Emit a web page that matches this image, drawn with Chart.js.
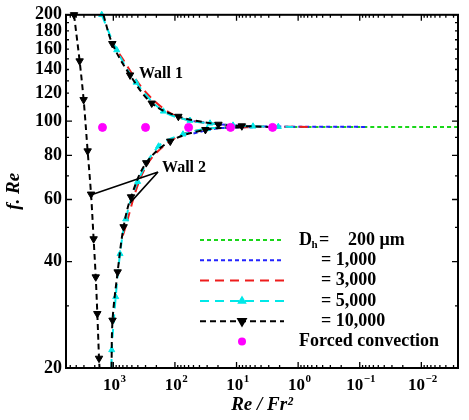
<!DOCTYPE html>
<html>
<head>
<meta charset="utf-8">
<script src="https://cdn.jsdelivr.net/npm/chart.js@4.4.1/dist/chart.umd.min.js"></script>
<style>
  html, body { margin: 0; padding: 0; background: #fff; }
  #c { display: block; }
</style>
</head>
<body>
<canvas id="c" width="469" height="420" style="width:469px;height:420px"></canvas>
<script>
// ---- data ----
const forcedX = [1500, 300, 60, 12.5, 2.6];
const forcedY = [96, 96, 96, 96, 96];

// Dh = 10,000
const blackWall1X = [1450, 1038, 535, 238, 88, 19.7, 8.2, 3];
const blackWall1Y = [200, 165.7, 135, 112.4, 103.1, 97.9, 96.9, 96.3];
const blackWall2aX = [4345, 3525, 3035, 2612, 2300, 2089, 1930, 1819, 1707, 1675];
const blackWall2aY = [200, 148, 115, 82.3, 62.1, 46.4, 36.2, 28.5, 21.3, 20];
const blackWall2bX = [1070, 1030, 851, 681, 516, 292, 119, 32, 8];
const blackWall2bY = [20, 27.3, 37.4, 50.2, 61, 76.2, 87.7, 94.6, 96.1];

// Dh = 5,000
const cyanWall1X = [1542, 881, 428, 154, 57, 26.9, 11.4, 5.4, 2.1, 1.2];
const cyanWall1Y = [200, 159, 128.7, 106.6, 100.4, 98.6, 97.3, 96.7, 96.4, 96.3];
const cyanWall2X = [1070, 1062, 914, 778, 629, 403, 184, 74, 30, 10];
const cyanWall2Y = [20, 22.5, 31.8, 42.1, 52.8, 67.4, 84.9, 91.8, 95.1, 96.1];

// Dh = 3,000
const redWall1X = [800, 300, 100, 30, 5, 0.7];
const redWall1Y = [155, 121, 103.7, 98.8, 96.7, 96.3];
const redWall2X = [700, 300, 100, 30, 5];
const redWall2Y = [47.5, 74, 89.5, 95.0, 96.2];

// Dh = 1,000
const blueWall1X = [50, 20, 5, 0.076];
const blueWall1Y = [100, 98.0, 96.7, 96.3];
const blueWall2X = [50, 20, 5];
const blueWall2Y = [92.3, 95.4, 96.2];

// Dh = 200 um
const greenX = [1.2, 0.0025];
const greenY = [96.3, 96.3];

const xTickVals = [1000, 100, 10, 1, 0.1, 0.01];
const xTickExps = ['3', '2', '1', '0', '-1', '-2'];
const yTickVals = [20, 30, 40, 50, 60, 70, 80, 90, 100, 110, 120, 130, 140, 150, 160, 170, 180, 190, 200];
const yTickLabels = ['20', '', '40', '', '60', '', '80', '', '100', '', '120', '', '140', '', '160', '', '180', '', '200'];
const yLongTicks = [20, 40, 60, 80, 100, 200];

const legendLabels = ['= 1,000', '= 3,000', '= 5,000', '= 10,000'];

const X_MIN = 0.00254, X_MAX = 5865;
const serif = "'Liberation Serif', 'Times New Roman', serif";

// ---- helpers ----
function pts(xs, ys) { return xs.map((x, i) => ({ x: x, y: ys[i] })); }
function radii(n, r, hideFirst, hideLast) {
    return Array.from({ length: n }, (_, i) =>
        (hideFirst && i === 0) || (hideLast && i === n - 1) ? 0 : r);
}

const BLACK = { color: '#000000', dash: [6, 4], style: 'triangle', rot: 180, r: 4.3 };
const CYAN  = { color: '#00e8e8', dash: [9, 6], style: 'triangle', rot: 0, r: 3.5 };
const RED   = { color: '#ee1c1c', dash: [9, 6] };
const BLUE  = { color: '#2323ff', dash: [4, 3] };
const GREEN = { color: '#1ad61a', dash: [4, 3] };

function lineSet(s, xs, ys, hideFirst, hideLast) {
    return {
        data: pts(xs, ys),
        borderColor: s.color,
        backgroundColor: s.color,
        borderWidth: 2,
        borderDash: s.dash,
        tension: 0.35,
        pointStyle: s.style || 'circle',
        rotation: s.rot || 0,
        pointRadius: s.r ? radii(xs.length, s.r, hideFirst, hideLast) : 0,
        pointBorderWidth: 1,
        clip: 8
    };
}

// first dataset ends up on top
const datasets = [
    {
        data: pts(forcedX, forcedY),
        showLine: false,
        pointStyle: 'circle',
        pointRadius: 4,
        backgroundColor: '#ff00ff',
        borderColor: '#ff00ff',
        clip: 8
    },
    lineSet(BLACK, blackWall1X, blackWall1Y, true, true),
    lineSet(BLACK, blackWall2aX, blackWall2aY, false, true),
    lineSet(BLACK, blackWall2bX, blackWall2bY, true, true),
    lineSet(CYAN, cyanWall1X, cyanWall1Y, false, true),
    lineSet(CYAN, cyanWall2X, cyanWall2Y, true, true),
    lineSet(RED, redWall1X, redWall1Y),
    lineSet(RED, redWall2X, redWall2Y),
    lineSet(BLUE, blueWall1X, blueWall1Y),
    lineSet(BLUE, blueWall2X, blueWall2Y),
    lineSet(GREEN, greenX, greenY)
];

// frame + inward ticks on all four sides, and 10^n labels with real superscripts
const frameTicks = {
    id: 'frameTicks',
    afterDatasetsDraw(chart) {
        const c = chart.ctx, a = chart.chartArea;
        const x = chart.scales.x, y = chart.scales.y;
        c.save();
        c.strokeStyle = '#000';
        c.lineWidth = 1.3;
        c.beginPath();
        for (let e = -3; e <= 3; e++) {
            for (let m = 1; m <= 9; m++) {
                const v = m * Math.pow(10, e);
                if (v < X_MIN || v > X_MAX) continue;
                const px = x.getPixelForValue(v);
                const len = m === 1 ? 6 : 3;
                c.moveTo(px, a.bottom); c.lineTo(px, a.bottom - len);
                c.moveTo(px, a.top); c.lineTo(px, a.top + len);
            }
        }
        yTickVals.forEach(v => {
            const py = y.getPixelForValue(v);
            const len = yLongTicks.includes(v) ? 6 : 3;
            c.moveTo(a.left, py); c.lineTo(a.left + len, py);
            c.moveTo(a.right, py); c.lineTo(a.right - len, py);
        });
        c.stroke();
        c.lineWidth = 2;
        c.strokeRect(a.left, a.top, a.right - a.left, a.bottom - a.top);

        c.fillStyle = '#000';
        c.textBaseline = 'alphabetic';
        xTickVals.forEach((v, i) => {
            const px = x.getPixelForValue(v);
            const exp = xTickExps[i].replace('-', '\u2212');
            c.font = 'bold 17px ' + serif;
            const wb = c.measureText('10').width;
            c.font = 'bold 11px ' + serif;
            const we = c.measureText(exp).width;
            const left = px - (wb + we) / 2 + 1;
            c.font = 'bold 17px ' + serif;
            c.fillText('10', left, a.bottom + 22);
            c.font = 'bold 11px ' + serif;
            c.fillText(exp, left + wb + 0.5, a.bottom + 14);
        });
        c.restore();
    }
};

// "Wall" notes and arrows, placed in data coordinates
const wallNotes = {
    id: 'wallNotes',
    afterDatasetsDraw(chart) {
        const c = chart.ctx;
        const X = v => chart.scales.x.getPixelForValue(v);
        const Y = v => chart.scales.y.getPixelForValue(v);
        c.save();
        c.fillStyle = '#000';
        c.font = 'bold 16px ' + serif;
        c.textBaseline = 'middle';
        c.fillText('Wall 1', X(383), Y(136.4));
        c.fillText('Wall 2', X(162), Y(73.6));
        c.strokeStyle = '#000';
        c.lineWidth = 1.6;
        c.beginPath();
        c.moveTo(X(188), Y(71.8)); c.lineTo(X(2328), Y(61.8));
        c.moveTo(X(188), Y(71.8)); c.lineTo(X(535), Y(58.7));
        c.stroke();
        c.restore();
    }
};

// legend in the lower right corner
const dhLegend = {
    id: 'dhLegend',
    afterDraw(chart) {
        const c = chart.ctx;
        const rows = [GREEN, BLUE, RED, CYAN, BLACK];
        const x0 = 200, x1 = 284, mx = 242, tx = 299;
        c.save();
        c.textBaseline = 'middle';
        c.fillStyle = '#000';
        rows.forEach((s, i) => {
            const y = 240 + i * 20.3;
            c.strokeStyle = s.color;
            c.lineWidth = 2;
            c.setLineDash(s.dash);
            c.beginPath(); c.moveTo(x0, y); c.lineTo(x1, y); c.stroke();
            c.setLineDash([]);
            if (s.r) {
                c.fillStyle = s.color; c.strokeStyle = s.color;
                Chart.helpers.drawPoint(c, { pointStyle: 'triangle', radius: s.r, rotation: s.rot, borderWidth: 1 }, mx, y);
            }
            c.fillStyle = '#000';
            c.font = 'bold 18px ' + serif;
            if (i === 0) {
                c.fillText('D', tx, y);
                c.font = 'bold 11px ' + serif;
                c.fillText('h', tx + 12.5, y + 5);
                c.font = 'bold 18px ' + serif;
                c.fillText('=', tx + 20, y);
                c.fillText('200 μm', tx + 49, y);
            } else {
                c.fillText(legendLabels[i - 1], tx + 22, y);
            }
        });
        const y = 240 + 5 * 20.3;
        c.fillStyle = '#ff00ff';
        c.beginPath(); c.arc(mx, y, 4, 0, Math.PI * 2); c.fill();
        c.fillStyle = '#000';
        c.font = 'bold 18px ' + serif;
        c.fillText('Forced convection', tx, y);
        c.restore();
    }
};

new Chart(document.getElementById('c'), {
    type: 'line',
    data: { datasets: datasets },
    plugins: [frameTicks, wallNotes, dhLegend],
    options: {
        responsive: false,
        animation: false,
        devicePixelRatio: 1,
        layout: { padding: { left: 0, right: 11, top: 13, bottom: 0 } },
        plugins: { legend: { display: false }, tooltip: { enabled: false } },
        scales: {
            x: {
                type: 'logarithmic',
                reverse: true,
                min: X_MIN,
                max: X_MAX,
                afterBuildTicks: s => { s.ticks = xTickVals.map(v => ({ value: v })); },
                afterFit: s => { s.height = 52; },
                grid: { display: false, drawTicks: false },
                border: { display: false },
                ticks: { display: false },
                title: {
                    display: true,
                    text: 'Re / Fr²',
                    color: '#000',
                    font: { family: serif, size: 19, weight: 'bold', style: 'italic' },
                    padding: { top: 0, bottom: 4 }
                }
            },
            y: {
                type: 'logarithmic',
                min: 20,
                max: 200,
                afterBuildTicks: s => { s.ticks = yTickVals.map(v => ({ value: v })); },
                afterFit: s => { s.width = 66; },
                grid: { display: false, drawTicks: false },
                border: { display: false },
                ticks: {
                    autoSkip: false,
                    padding: 4,
                    color: '#000',
                    font: { family: serif, size: 18, weight: 'bold' },
                    callback: (v, i) => yTickLabels[i]
                },
                title: {
                    display: true,
                    text: 'f. Re',
                    color: '#000',
                    font: { family: serif, size: 19, weight: 'bold', style: 'italic' },
                    padding: { top: 3, bottom: 0 }
                }
            }
        }
    }
});
</script>
</body>
</html>
